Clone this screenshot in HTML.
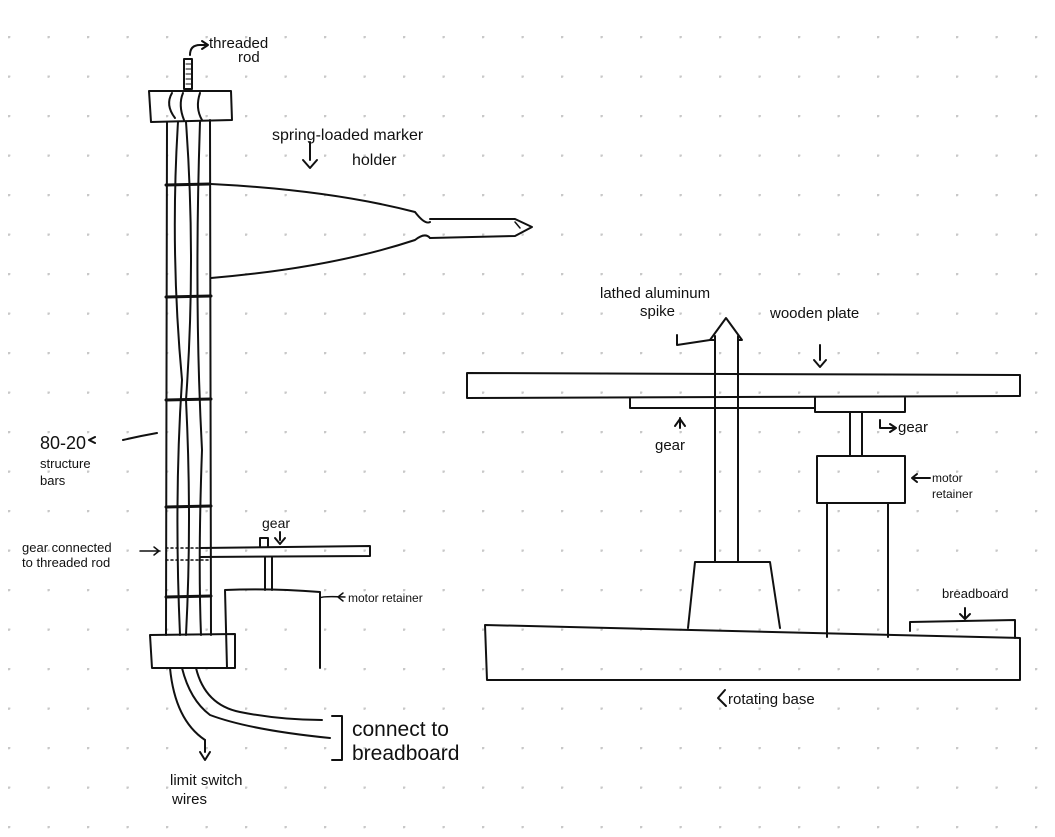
<!DOCTYPE html>
<html><head><meta charset="utf-8"><style>
html,body{margin:0;padding:0;background:#fff}
svg{display:block}
text{font-family:"Liberation Sans",sans-serif;fill:#111}
</style></head><body>
<svg width="1055" height="837" viewBox="0 0 1055 837" xmlns="http://www.w3.org/2000/svg">
<defs><pattern id="d" x="8" y="36" width="39.5" height="39.5" patternUnits="userSpaceOnUse"><circle cx="0.8" cy="0.8" r="1.6" fill="#c8c8c8"/></pattern></defs>
<rect width="1055" height="837" fill="#fff"/>
<rect x="0" y="30" width="1055" height="807" fill="url(#d)"/>
<g fill="none" stroke="#111" stroke-width="2" stroke-linecap="round" stroke-linejoin="round">
<!-- threaded rod -->
<rect x="184" y="59" width="8" height="30"/>
<path d="M186 64h5M186 69h5M186 74h5M186 79h5M186 84h5" stroke-width="1"/>
<path d="M190 55 Q190 45 200 45 L205 45"/><path d="M202 41 l6 4 -6 4"/>
<!-- top cap -->
<path d="M149 91 L231 91 L232 120 L151 122 Z"/>
<path d="M172 93 Q165 105 175 118 M183 93 Q178 105 184 120 M200 93 Q195 108 202 120"/>
<!-- rails -->
<path d="M167 122 L166 635 M210 120 L211 635"/>
<path d="M178 122 Q170 250 182 380 Q174 500 180 635 M186 122 Q196 260 186 400 Q192 520 186 635 M200 122 Q194 300 202 450 Q198 560 201 635"/>
<path d="M166 185 L210 184 M166 297 L211 296 M166 400 L211 399 M166 507 L211 506 M166 597 L211 596" stroke-width="3"/>
<path d="M166 548 L211 548 M166 560 L211 560" stroke-dasharray="2 3" stroke-width="1.5"/>
<!-- marker holder -->
<path d="M211 184 Q330 190 415 212 Q425 225 430 222 M211 278 Q330 268 415 240 Q425 232 430 238"/>
<path d="M430 219 L515 219 L532 227 L515 236 L430 238"/>
<path d="M515 222 L520 228" stroke-width="1.5"/>
<path d="M310 142 L310 160 M303 160 L310 168 L317 160"/>
<!-- gear -->
<path d="M200 548 L370 546 L370 556 L200 557"/>
<path d="M260 546 L260 538 L268 538 L268 546"/>
<path d="M280 532 L280 540 M275 538 L280 544 L285 538"/>
<path d="M265 557 L265 590 M272 557 L272 590"/>
<path d="M225 590 Q270 588 320 592 L320 668 M225 590 L227 668"/>
<path d="M320 598 Q322 596 345 597 M343 593 l-5 4 5 4" stroke-width="1.5"/>
<!-- bottom cap -->
<path d="M150 635 L235 634 L235 668 L152 668 Z"/>
<path d="M170 668 Q175 720 205 740 M182 668 Q190 700 210 715 Q250 730 330 738 M196 668 Q205 705 240 712 Q280 720 322 720"/>
<path d="M205 740 L205 752 M200 752 L205 760 L210 752"/>
<path d="M332 716 L342 716 L342 760 L332 760"/>
<path d="M123 440 Q140 436 157 433 M95 437 l-6 3 6 3"/>
<path d="M140 551 L160 551 M154 547 l5 4 -5 4" stroke-width="1.5"/>
<!-- right side -->
<path d="M467 373 L1020 375 L1020 396 L467 398 Z"/>
<path d="M630 398 L630 408 L815 408 L815 398 M815 402 L815 412 L905 412 L905 398"/>
<path d="M715 336 L715 562 M738 336 L738 562"/>
<path d="M710 340 L726 318 L742 340 L738 340 M715 340 L710 340"/>
<path d="M677 335 L677 345 L710 340"/>
<path d="M820 345 L820 360 M814 360 L820 367 L826 360"/>
<path d="M680 428 L680 418 M675 426 L680 419 L685 426"/>
<path d="M695 562 L770 562 L780 628 M695 562 L688 628"/>
<path d="M850 412 L850 456 M862 412 L862 456"/>
<path d="M880 420 L880 428 L895 428 M890 424 l6 4 -6 4"/>
<path d="M817 456 L905 456 L905 503 L817 503 Z"/>
<path d="M827 503 L827 637 M888 503 L888 637"/>
<path d="M913 478 L930 478 M917 474 l-5 4 5 4"/>
<path d="M485 625 L1020 638 L1020 680 L487 680 Z"/>
<path d="M910 622 L1015 620 L1015 638 M910 622 L910 631"/>
<path d="M965 608 L965 618 M960 614 L965 619 L970 614"/>
<path d="M725 690 L718 698 L726 706"/>
</g>
<text x="209" y="48" font-size="15">threaded</text>
<text x="238" y="62" font-size="15">rod</text>
<text x="272" y="140" font-size="16">spring-loaded marker</text>
<text x="352" y="165" font-size="16">holder</text>
<text x="40" y="449" font-size="18">80-20</text>
<text x="40" y="468" font-size="13">structure</text>
<text x="40" y="485" font-size="13">bars</text>
<text x="262" y="528" font-size="14">gear</text>
<text x="22" y="552" font-size="13">gear connected</text>
<text x="22" y="567" font-size="13">to threaded rod</text>
<text x="348" y="602" font-size="12">motor retainer</text>
<text x="352" y="736" font-size="21">connect to</text>
<text x="352" y="760" font-size="21">breadboard</text>
<text x="170" y="785" font-size="15">limit switch</text>
<text x="172" y="804" font-size="15">wires</text>
<text x="600" y="298" font-size="15">lathed aluminum</text>
<text x="640" y="316" font-size="15">spike</text>
<text x="770" y="318" font-size="15">wooden plate</text>
<text x="655" y="450" font-size="15">gear</text>
<text x="898" y="432" font-size="15">gear</text>
<text x="932" y="482" font-size="12">motor</text>
<text x="932" y="498" font-size="12">retainer</text>
<text x="942" y="598" font-size="13">breadboard</text>
<text x="728" y="704" font-size="15">rotating base</text>
</svg>
</body></html>
